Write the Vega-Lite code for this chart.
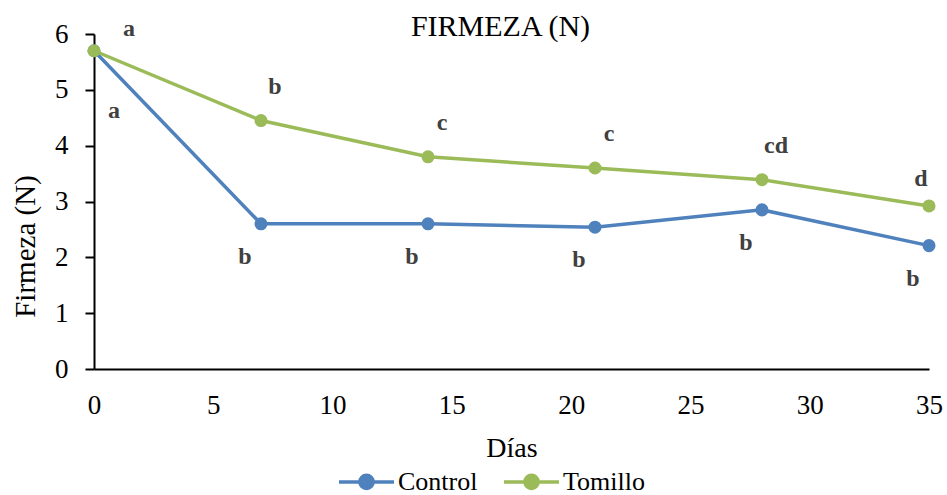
{
  "$schema": "https://vega.github.io/schema/vega-lite/v6.json",
  "width": 835,
  "height": 335,
  "autosize": {"type": "none"},
  "padding": {"left": 94, "top": 34, "right": 18, "bottom": 126},
  "background": "white",
  "config": {
    "font": "Times New Roman",
    "view": {"stroke": null},
    "axis": {"labelFont": "Times New Roman", "titleFont": "Times New Roman"},
    "legend": {"labelFont": "Times New Roman"},
    "text": {"font": "Times New Roman"},
    "title": {"font": "Times New Roman"}
  },
  "title": {
    "text": "FIRMEZA (N)",
    "fontSize": 30,
    "fontWeight": "normal",
    "font": "Times New Roman",
    "color": "black",
    "anchor": "middle",
    "baseline": "alphabetic",
    "offset": 0,
    "dx": -11,
    "dy": 49
  },
  "data": {
    "values": [
      {"dia": 0, "trat": "Control", "firmeza": 5.7, "letra": "a"},
      {"dia": 7, "trat": "Control", "firmeza": 2.6, "letra": "b"},
      {"dia": 14, "trat": "Control", "firmeza": 2.6, "letra": "b"},
      {"dia": 21, "trat": "Control", "firmeza": 2.54, "letra": "b"},
      {"dia": 28, "trat": "Control", "firmeza": 2.85, "letra": "b"},
      {"dia": 35, "trat": "Control", "firmeza": 2.21, "letra": "b"},
      {"dia": 0, "trat": "Tomillo", "firmeza": 5.7, "letra": "a"},
      {"dia": 7, "trat": "Tomillo", "firmeza": 4.45, "letra": "b"},
      {"dia": 14, "trat": "Tomillo", "firmeza": 3.8, "letra": "c"},
      {"dia": 21, "trat": "Tomillo", "firmeza": 3.6, "letra": "c"},
      {"dia": 28, "trat": "Tomillo", "firmeza": 3.39, "letra": "cd"},
      {"dia": 35, "trat": "Tomillo", "firmeza": 2.92, "letra": "d"}
    ]
  },
  "encoding": {
    "x": {
      "field": "dia", "type": "quantitative",
      "scale": {"domain": [0, 35], "nice": false, "zero": false},
      "axis": {
        "title": "Días", "values": [0, 5, 10, 15, 20, 25, 30, 35],
        "grid": false, "ticks": false, "domainColor": "black", "domainWidth": 2,
        "labelFont": "Times New Roman", "labelFontSize": 27, "labelColor": "black",
        "labelPadding": 44, "labelFlush": false, "labelBaseline": "alphabetic",
        "titleFont": "Times New Roman", "titleFontSize": 28, "titleFontWeight": "normal",
        "titleColor": "black", "titleBaseline": "alphabetic", "titleY": 87
      }
    },
    "y": {
      "field": "firmeza", "type": "quantitative",
      "scale": {"domain": [0, 6], "nice": false},
      "axis": {
        "title": "Firmeza (N)", "values": [0, 1, 2, 3, 4, 5, 6],
        "grid": false, "ticks": true, "tickSize": 9, "tickColor": "black", "tickWidth": 2,
        "domainColor": "black", "domainWidth": 2,
        "labelFont": "Times New Roman", "labelFontSize": 27, "labelColor": "black",
        "labelPadding": 17,
        "titleFont": "Times New Roman", "titleFontSize": 29, "titleFontWeight": "normal",
        "titleColor": "black", "titleX": -69, "titleY": 212, "titleBaseline": "middle"
      }
    }
  },
  "layer": [
    {
      "mark": {"type": "line", "strokeWidth": 3.5, "point": {"filled": true, "size": 170, "opacity": 1}},
      "encoding": {
        "color": {
          "field": "trat", "type": "nominal",
          "scale": {"domain": ["Control", "Tomillo"], "range": ["#4F81BD", "#9BBB59"]},
          "legend": {
            "title": null, "orient": "none", "direction": "horizontal",
            "legendX": 243, "legendY": 418,
            "symbolType": "M-1,0L1,0M-0.24,0A0.24,0.24 0 1,1 0.24,0A0.24,0.24 0 1,1 -0.24,0",
            "symbolSize": 3025, "symbolStrokeWidth": 3.5,
            "labelFont": "Times New Roman", "labelFontSize": 26, "labelColor": "black",
            "labelOffset": 2, "columnPadding": 19, "labelLimit": 300,
            "encode": {"symbols": {"update": {"fill": {"scale": "color", "field": "value"}, "fillOpacity": {"value": 1}}}}
          }
        }
      }
    },
    {
      "transform": [{"filter": "datum.trat === 'Tomillo' && datum.dia > 0 && datum.dia < 35"}],
      "mark": {"type": "text", "dx": 14, "dy": -34, "fontSize": 24, "fontWeight": "bold", "color": "#404040", "font": "Times New Roman", "baseline": "middle"},
      "encoding": {"text": {"field": "letra"}}
    },
    {
      "transform": [{"filter": "datum.trat === 'Tomillo' && datum.dia === 0"}],
      "mark": {"type": "text", "dx": 35, "dy": -22, "fontSize": 24, "fontWeight": "bold", "color": "#404040", "font": "Times New Roman", "baseline": "middle"},
      "encoding": {"text": {"field": "letra"}}
    },
    {
      "transform": [{"filter": "datum.trat === 'Tomillo' && datum.dia === 35"}],
      "mark": {"type": "text", "dx": -8, "dy": -27, "fontSize": 24, "fontWeight": "bold", "color": "#404040", "font": "Times New Roman", "baseline": "middle"},
      "encoding": {"text": {"field": "letra"}}
    },
    {
      "transform": [{"filter": "datum.trat === 'Control' && datum.dia > 0"}],
      "mark": {"type": "text", "dx": -16, "dy": 33, "fontSize": 24, "fontWeight": "bold", "color": "#404040", "font": "Times New Roman", "baseline": "middle"},
      "encoding": {"text": {"field": "letra"}}
    },
    {
      "transform": [{"filter": "datum.trat === 'Control' && datum.dia === 0"}],
      "mark": {"type": "text", "dx": 20, "dy": 60, "fontSize": 24, "fontWeight": "bold", "color": "#404040", "font": "Times New Roman", "baseline": "middle"},
      "encoding": {"text": {"field": "letra"}}
    }
  ]
}
